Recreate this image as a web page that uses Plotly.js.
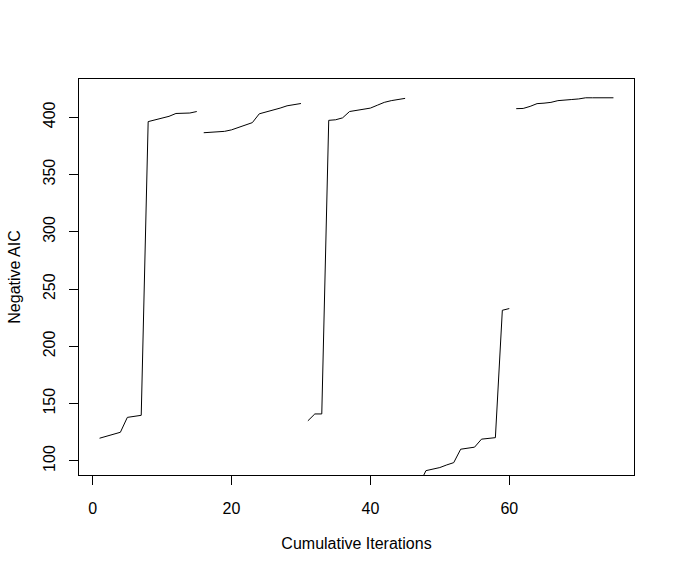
<!DOCTYPE html>
<html>
<head>
<meta charset="utf-8">
<script src="https://cdn.plot.ly/plotly-3.0.1.min.js"></script>
<style>html,body{margin:0;padding:0;background:#fff;}#chart{width:674px;height:573px;}</style>
</head>
<body>
<div id="chart"></div>
<script>
// Run 1
const iter1 = [1,2,3,4,5,6,7,8,9,10,11,12,13,14,15];
const aic1  = [119.8,121.5,123.3,125,138,138.8,139.8,396.2,397.8,399.3,400.8,403.3,403.5,403.7,405];
// Run 2
const iter2 = [16,17,18,19,20,21,22,23,24,25,26,27,28,29,30];
const aic2  = [386.5,386.8,387.2,387.7,389,391,393.3,395.3,403,404.5,406,408,410,411,412];
// Run 3
const iter3 = [31,32,33,34,35,36,37,38,39,40,41,42,43,44,45];
const aic3  = [135,141,141,397.3,397.8,399.5,405,406,407,408,410.5,413,414.5,415.5,416.5];
// Run 4
const iter4 = [46,47,48,49,50,51,52,53,54,55,56,57,58,59,60];
const aic4  = [70,79,91.5,92.8,94.2,96.5,98.5,110.2,111,112,119,119.8,120.3,231.5,233];
// Run 5
const iter5 = [61,62,63,64,65,66,67,68,69,70,71,72,73,74,75];
const aic5  = [407.5,407.7,409.5,411.9,412.3,413,414.5,415.3,415.5,416,417,417,417,417,417];

const runs = [[iter1,aic1],[iter2,aic2],[iter3,aic3],[iter4,aic4],[iter5,aic5]];
const traces = runs.map(r => ({
  x: r[0], y: r[1], type: 'scatter', mode: 'lines',
  line: {color: '#000', width: 1}, showlegend: false, hoverinfo: 'skip'
}));

const fnt = {family: 'Liberation Sans, Arial, sans-serif', size: 16, color: '#000'};
const layout = {
  width: 674, height: 573,
  margin: {l: 79, r: 40, t: 79, b: 98},
  paper_bgcolor: '#fff', plot_bgcolor: '#fff',
  font: fnt,
  xaxis: {
    range: [-1.96, 77.96], tick0: 0, dtick: 20, tickmode: 'linear',
    showgrid: false, zeroline: false, showline: true, mirror: true,
    linecolor: '#000', linewidth: 1, ticks: 'outside', ticklen: 9, tickcolor: '#000', tickwidth: 1,
    tickfont: fnt, ticklabelstandoff: 10,
    title: {text: 'Cumulative Iterations', font: fnt, standoff: 21}
  },
  yaxis: {
    range: [87.7, 433.4], tick0: 100, dtick: 50, tickmode: 'linear',
    showgrid: false, zeroline: false, showline: true, mirror: true,
    linecolor: '#000', linewidth: 1, ticks: 'outside', ticklen: 9, tickcolor: '#000', tickwidth: 1,
    tickfont: fnt, tickangle: -90, ticklabelstandoff: 8,
    title: {text: 'Negative AIC', font: fnt, standoff: 15}
  }
};
Plotly.newPlot('chart', traces, layout, {staticPlot: true, displayModeBar: false});
</script>
</body>
</html>
